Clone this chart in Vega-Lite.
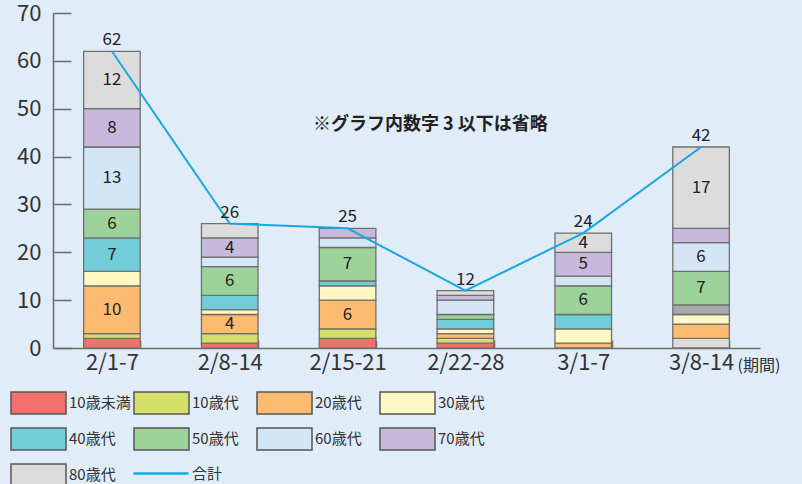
{
  "$schema": "https://vega.github.io/schema/vega-lite/v6.json",
  "width": 707,
  "height": 335,
  "autosize": {"type": "none"},
  "padding": {"left": 53, "top": 13, "right": 42, "bottom": 136},
  "background": "#E0ECF8",
  "config": {
    "view": {"stroke": null},
    "font": "Noto Sans CJK JP"
  },
  "data": {
    "values": [
      {"period": "2/1-7", "age": "10歳未満", "value": 2},
      {"period": "2/1-7", "age": "10歳代", "value": 1},
      {"period": "2/1-7", "age": "20歳代", "value": 10},
      {"period": "2/1-7", "age": "30歳代", "value": 3},
      {"period": "2/1-7", "age": "40歳代", "value": 7},
      {"period": "2/1-7", "age": "50歳代", "value": 6},
      {"period": "2/1-7", "age": "60歳代", "value": 13},
      {"period": "2/1-7", "age": "70歳代", "value": 8},
      {"period": "2/1-7", "age": "80歳代", "value": 12},
      {"period": "2/8-14", "age": "10歳未満", "value": 1},
      {"period": "2/8-14", "age": "10歳代", "value": 2},
      {"period": "2/8-14", "age": "20歳代", "value": 4},
      {"period": "2/8-14", "age": "30歳代", "value": 1},
      {"period": "2/8-14", "age": "40歳代", "value": 3},
      {"period": "2/8-14", "age": "50歳代", "value": 6},
      {"period": "2/8-14", "age": "60歳代", "value": 2},
      {"period": "2/8-14", "age": "70歳代", "value": 4},
      {"period": "2/8-14", "age": "80歳代", "value": 3},
      {"period": "2/15-21", "age": "10歳未満", "value": 2},
      {"period": "2/15-21", "age": "10歳代", "value": 2},
      {"period": "2/15-21", "age": "20歳代", "value": 6},
      {"period": "2/15-21", "age": "30歳代", "value": 3},
      {"period": "2/15-21", "age": "40歳代", "value": 1},
      {"period": "2/15-21", "age": "50歳代", "value": 7},
      {"period": "2/15-21", "age": "60歳代", "value": 2},
      {"period": "2/15-21", "age": "70歳代", "value": 2},
      {"period": "2/22-28", "age": "10歳未満", "value": 1},
      {"period": "2/22-28", "age": "10歳代", "value": 1},
      {"period": "2/22-28", "age": "20歳代", "value": 1},
      {"period": "2/22-28", "age": "30歳代", "value": 1},
      {"period": "2/22-28", "age": "40歳代", "value": 2},
      {"period": "2/22-28", "age": "50歳代", "value": 1},
      {"period": "2/22-28", "age": "60歳代", "value": 3},
      {"period": "2/22-28", "age": "70歳代", "value": 1},
      {"period": "2/22-28", "age": "80歳代", "value": 1},
      {"period": "3/1-7", "age": "20歳代", "value": 1},
      {"period": "3/1-7", "age": "30歳代", "value": 3},
      {"period": "3/1-7", "age": "40歳代", "value": 3},
      {"period": "3/1-7", "age": "50歳代", "value": 6},
      {"period": "3/1-7", "age": "60歳代", "value": 2},
      {"period": "3/1-7", "age": "70歳代", "value": 5},
      {"period": "3/1-7", "age": "80歳代", "value": 4},
      {"period": "3/8-14", "age": "10歳代※", "value": 2},
      {"period": "3/8-14", "age": "20歳代", "value": 3},
      {"period": "3/8-14", "age": "30歳代", "value": 2},
      {"period": "3/8-14", "age": "40歳代※", "value": 2},
      {"period": "3/8-14", "age": "50歳代", "value": 7},
      {"period": "3/8-14", "age": "60歳代", "value": 6},
      {"period": "3/8-14", "age": "70歳代", "value": 3},
      {"period": "3/8-14", "age": "80歳代", "value": 17}
    ]
  },
  "transform": [
    {"calculate": "indexof(['10歳未満','10歳代','10歳代※','20歳代','30歳代','40歳代','40歳代※','50歳代','60歳代','70歳代','80歳代'], datum.age)", "as": "k"},
    {"stack": "value", "groupby": ["period"], "sort": [{"field": "k", "order": "ascending"}], "as": ["y0", "y1"]},
    {"calculate": "(datum.y0 + datum.y1) / 2", "as": "mid"}
  ],
  "encoding": {
    "x": {
      "field": "period",
      "type": "nominal",
      "scale": {"domain": ["2/1-7", "2/8-14", "2/15-21", "2/22-28", "3/1-7", "3/8-14"], "paddingInner": 0.52, "paddingOuter": 0.26},
      "axis": {
        "title": "(期間)",
        "titleX": 684,
        "titleY": 17,
        "titleAlign": "left",
        "titleBaseline": "middle",
        "titleFontSize": 16,
        "titleFontWeight": "normal",
        "titleColor": "#333333",
        "labelAngle": 0,
        "labelFontSize": 22,
        "labelColor": "#333333",
        "labelPadding": 12,
        "tickBand": "extent",
        "tickSize": -8,
        "tickColor": "#6b6b6b",
        "tickWidth": 1.5,
        "domainColor": "#6b6b6b",
        "domainWidth": 1.5
      }
    }
  },
  "layer": [
    {
      "mark": {"type": "bar", "stroke": "#6f6f6f", "strokeWidth": 1.3},
      "encoding": {
        "y": {
          "field": "y0",
          "type": "quantitative",
          "scale": {"domain": [0, 70], "nice": false},
          "axis": {
            "title": null,
            "values": [0, 10, 20, 30, 40, 50, 60, 70],
            "grid": false,
            "labelFontSize": 22,
            "labelColor": "#333333",
            "labelPadding": 30,
            "tickSize": -18,
            "tickColor": "#6b6b6b",
            "tickWidth": 1.5,
            "domainColor": "#6b6b6b",
            "domainWidth": 1.5
          }
        },
        "y2": {"field": "y1"},
        "fill": {
          "field": "age",
          "type": "nominal",
          "scale": {
            "domain": ["10歳未満", "10歳代", "10歳代※", "20歳代", "30歳代", "40歳代", "40歳代※", "50歳代", "60歳代", "70歳代", "80歳代"],
            "range": ["#F2716C", "#D5E068", "#DCDCDC", "#FDBB72", "#FFF8C2", "#73CDD8", "#A9AAAC", "#9DD39A", "#D4E5F5", "#C6B9DB", "#DCDCDC"]
          },
          "legend": {
            "title": null,
            "orient": "none",
            "legendX": -43,
            "legendY": 378,
            "direction": "horizontal",
            "columns": 4,
            "gridAlign": "all",
            "values": ["10歳未満", "10歳代", "20歳代", "30歳代", "40歳代", "50歳代", "60歳代", "70歳代", "80歳代"],
            "symbolType": "M-1,-1H4V1H-1Z",
            "symbolSize": 484,
            "symbolStrokeColor": "#555555",
            "symbolStrokeWidth": 1.5,
            "symbolOpacity": 1,
            "labelFontSize": 15,
            "labelColor": "#333333",
            "labelOffset": 35,
            "rowPadding": 8,
            "columnPadding": 0,
            "padding": 0
          }
        }
      }
    },
    {
      "transform": [{"filter": "datum.value >= 4"}],
      "mark": {"type": "text", "fontSize": 17, "color": "#222222", "baseline": "middle"},
      "encoding": {
        "y": {"field": "mid", "type": "quantitative"},
        "text": {"field": "value", "type": "quantitative"}
      }
    },
    {
      "transform": [{"aggregate": [{"op": "sum", "field": "value", "as": "total"}], "groupby": ["period"]}],
      "layer": [
        {
          "mark": {"type": "line", "strokeWidth": 2},
          "encoding": {
            "y": {"field": "total", "type": "quantitative"},
            "stroke": {
              "datum": "合計",
              "type": "nominal",
              "scale": {"domain": ["合計"], "range": ["#17A8E3"]},
              "legend": {
                "title": null,
                "orient": "none",
                "legendX": 79,
                "legendY": 448,
                "symbolType": "M-1,0H4",
                "symbolSize": 484,
                "symbolStrokeWidth": 2.5,
                "labelFontSize": 15,
                "labelColor": "#333333",
                "labelOffset": 35,
                "padding": 0
              }
            }
          }
        },
        {
          "mark": {"type": "text", "fontSize": 17, "color": "#222222", "baseline": "alphabetic", "dy": -6},
          "encoding": {
            "y": {"field": "total", "type": "quantitative"},
            "text": {"field": "total", "type": "quantitative"}
          }
        }
      ]
    },
    {
      "data": {"values": [{"note": "※グラフ内数字 3 以下は省略"}]},
      "mark": {"type": "text", "fontSize": 18, "fontWeight": "bold", "color": "#222222", "baseline": "middle", "dx": -35},
      "encoding": {
        "x": {"datum": "2/22-28"},
        "y": {"datum": 46.5},
        "text": {"field": "note"}
      }
    }
  ]
}
